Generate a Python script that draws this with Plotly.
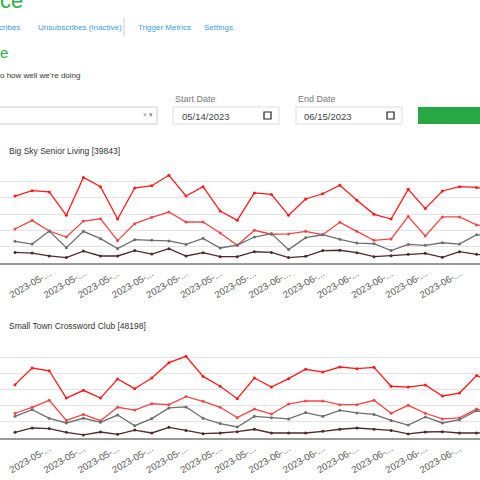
import plotly.graph_objects as go
from plotly.subplots import make_subplots
import datetime as dt

# days shown on both charts
start = dt.date(2023, 5, 16)
dates = [(start + dt.timedelta(days=i)).isoformat() for i in range(29)]

big_sky_a = [41.0, 44.3, 43.5, 29.2, 52.4, 46.7, 26.9, 45.9, 47.3, 53.7, 41.0, 46.7, 31.8, 26.1, 42.9,
             42.0, 29.2, 39.2, 42.4, 47.6, 38.4, 29.8, 26.9, 45.1, 33.3, 44.1, 46.7, 46.3, 44.1]
big_sky_b = [20.8, 26.1, 19.6, 15.9, 25.7, 27.1, 13.7, 24.1, 28.0, 31.2, 25.1, 25.1, 18.4, 10.8, 20.0,
             17.6, 17.8, 19.4, 17.3, 24.9, 19.4, 13.9, 14.7, 28.4, 16.5, 28.2, 28.2, 23.3, 21.8]
big_sky_c = [13.3, 11.6, 19.6, 9.4, 19.4, 14.9, 8.8, 14.3, 13.9, 13.5, 11.4, 15.1, 9.2, 11.0, 15.9,
             18.0, 8.2, 15.5, 17.3, 14.5, 12.2, 11.8, 7.6, 11.4, 10.8, 12.4, 11.6, 17.3, 15.9]
big_sky_d = [6.5, 6.1, 4.3, 3.3, 7.3, 4.3, 4.3, 7.6, 5.5, 8.8, 4.3, 6.3, 3.9, 3.9, 6.9,
             6.5, 3.3, 4.1, 7.6, 7.8, 6.3, 3.9, 4.5, 5.3, 5.9, 3.5, 6.9, 5.3, 4.7]

small_town_a = [33.0, 43.3, 41.6, 24.7, 29.5, 24.7, 36.5, 30.5, 37.1, 46.6, 50.5, 38.1, 32.0, 24.3, 37.1,
                31.5, 36.7, 42.5, 40.8, 43.9, 42.9, 43.7, 32.0, 31.5, 32.8, 26.0, 27.8, 38.6, 35.0]
small_town_b = [15.3, 19.0, 23.3, 10.9, 14.6, 10.7, 19.0, 17.3, 21.2, 20.6, 25.6, 22.7, 19.0, 12.6, 17.9,
                14.8, 21.0, 22.9, 22.9, 20.6, 20.6, 23.3, 15.3, 20.2, 15.3, 11.8, 12.4, 17.9, 15.5]
small_town_c = [13.4, 17.5, 12.2, 9.3, 12.2, 9.7, 14.2, 7.6, 12.0, 18.6, 19.2, 12.2, 8.9, 6.8, 13.4,
                12.6, 11.8, 15.7, 13.4, 17.1, 15.5, 14.6, 10.9, 8.0, 13.0, 9.3, 11.3, 16.9, 14.4]
small_town_d = [3.5, 6.2, 5.8, 3.5, 1.9, 3.7, 2.3, 4.9, 3.1, 6.6, 4.7, 2.7, 3.1, 3.9, 5.4,
                3.1, 3.1, 3.1, 4.1, 5.4, 6.2, 5.4, 4.7, 2.5, 3.7, 3.9, 3.1, 3.1, 3.5]

colors = ["#ff1a1a", "#f04848", "#6e6e6e", "#4e2a2a"]

H = 480.0
def py(p):
    return 1 - p / H

fig = make_subplots(rows=2, cols=1)
idx = list(range(len(dates)))
for row, series in [(1, [big_sky_a, big_sky_b, big_sky_c, big_sky_d]),
                    (2, [small_town_a, small_town_b, small_town_c, small_town_d])]:
    for s, c in zip(series, colors):
        fig.add_trace(go.Scatter(x=idx, y=s, mode="lines+markers", line=dict(color=c, width=1.3),
                                 marker=dict(size=3, color=c), showlegend=False), row=row, col=1)

tickvals = idx[::2]
ticktext = [dates[i][:8] + "..." for i in tickvals]
for ax in ["xaxis", "xaxis2"]:
    fig.layout[ax].update(range=[-0.88, 27.2], tickvals=tickvals, ticktext=ticktext, tickangle=-30,
                          tickfont=dict(size=9.5, color="#555", family="Liberation Sans"),
                          showgrid=False, showline=True, linecolor="#999", linewidth=1.5,
                          zeroline=False, ticks="")
for ax in ["yaxis", "yaxis2"]:
    fig.layout[ax].update(range=[0, 60], dtick=10, showticklabels=False, gridcolor="#e4e4e4",
                          zeroline=False)
fig.layout.yaxis.domain = [py(263), py(165)]
fig.layout.yaxis2.domain = [py(438), py(341)]
fig.layout.xaxis.domain = [0, 1]
fig.layout.xaxis2.domain = [0, 1]

green = "#2cb34a"
blue = "#3aa0d8"
font = "Liberation Sans"
ann = [
    dict(x=-2, y=-14, text="ce", size=22, color=green),
    dict(x=-3, y=21, text="cribes", size=8, color=blue),
    dict(x=36, y=21, text="Unsubscribes (Inactive)", size=8, color=blue),
    dict(x=136, y=21, text="Trigger Metrics", size=8, color=blue),
    dict(x=202, y=21, text="Settings", size=8, color=blue),
    dict(x=-2, y=42, text="e", size=15, color=green),
    dict(x=-2, y=69, text="o how well we’re doing", size=8, color="#333"),
    dict(x=173, y=92, text="Start Date", size=9, color="#777"),
    dict(x=296, y=92, text="End Date", size=9, color="#777"),
    dict(x=180, y=109, text="05/14/2023", size=9.5, color="#444"),
    dict(x=302, y=109, text="06/15/2023", size=9.5, color="#444"),
    dict(x=141, y=109, text="× ▾", size=7, color="#888"),
    dict(x=7, y=144, text="Big Sky Senior Living [39843]", size=8.5, color="#333"),
    dict(x=7, y=319, text="Small Town Crossword Club [48198]", size=8.5, color="#333"),
]
for a in ann:
    fig.add_annotation(x=a["x"] / 480, y=py(a["y"]), xref="paper", yref="paper", text=a["text"],
                       showarrow=False, xanchor="left", yanchor="top",
                       font=dict(size=a["size"], color=a["color"], family=font))

shapes = [
    dict(type="line", x0=124, x1=124, y0=18, y1=36, line=dict(color="#ccc", width=1)),
    dict(type="rect", x0=-5, x1=157, y0=107, y1=124, line=dict(color="#ccc", width=1)),
    dict(type="rect", x0=173, x1=279, y0=107, y1=124, line=dict(color="#ddd", width=1)),
    dict(type="rect", x0=296, x1=402, y0=107, y1=124, line=dict(color="#ddd", width=1)),
    dict(type="rect", x0=264, x1=271, y0=112, y1=119, line=dict(color="#222", width=1.2)),
    dict(type="rect", x0=387, x1=394, y0=112, y1=119, line=dict(color="#222", width=1.2)),
    dict(type="rect", x0=418, x1=485, y0=107, y1=124, fillcolor="#28a745", line=dict(width=0)),
]
for s in shapes:
    fig.add_shape(type=s["type"], x0=s["x0"] / 480, x1=s["x1"] / 480, y0=py(s["y0"]), y1=py(s["y1"]),
                  xref="paper", yref="paper", line=s["line"], fillcolor=s.get("fillcolor"))

fig.update_layout(width=480, height=480, margin=dict(l=0, r=0, t=0, b=0),
                  plot_bgcolor="white", paper_bgcolor="white")
fig.write_html("out.html", config={"displayModeBar": False},
               post_script="document.body.style.margin='0';")
